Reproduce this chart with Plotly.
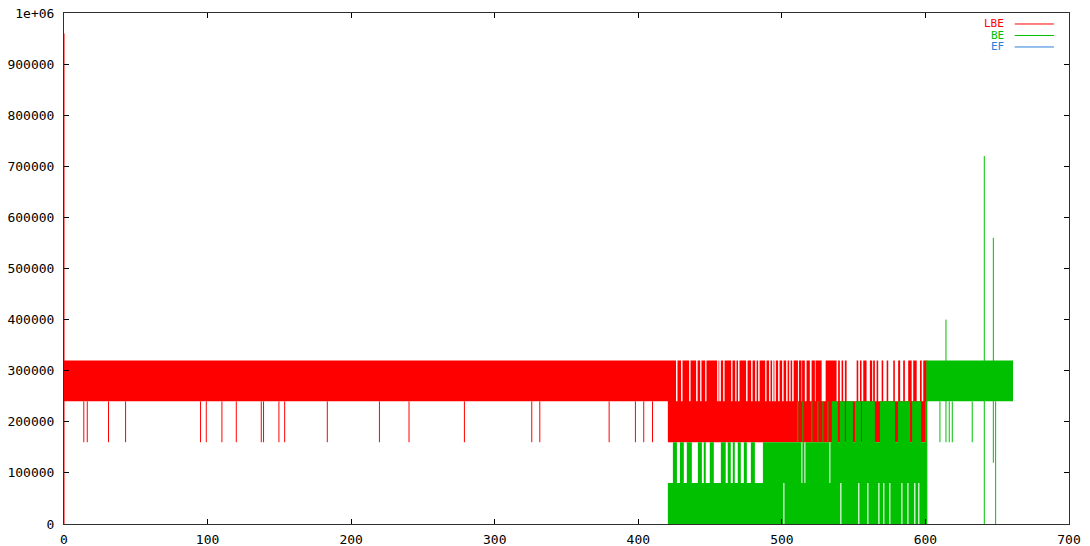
import plotly.graph_objects as go

# ---------------- data ----------------
x_ticks = [0, 100, 200, 300, 400, 500, 600, 700]
y_ticks = [0, 100000, 200000, 300000, 400000, 500000, 600000, 700000, 800000, 900000, 1000000]
y_tick_text = ["0", "100000", "200000", "300000", "400000", "500000", "600000",
               "700000", "800000", "900000", "1e+06"]

series_names = ["LBE", "BE", "EF"]
series_colors = ["#ff0000", "#00c000", "#2a7fdc"]

# LBE: dense oscillation envelopes  (x_start, x_end, y_low, y_high)
lbe_bands = [
    (0.0, 420.6, 240000, 320000),
    (420.6, 601.0, 160000, 240000),
]
# LBE: x-runs where the dense oscillation also reaches 240000-320000 (after x=420)
lbe_high_runs = [
    (420.6, 426.3), (427.3, 429.8), (430.8, 435.4), (436.4, 440.3), (441.3, 443.1),
    (444.0, 446.6), (447.5, 454.9), (455.9, 456.4), (457.5, 459.1), (460.1, 464.7),
    (465.6, 467.5), (468.4, 469.5), (470.5, 475.1), (476.1, 478.6), (479.6, 481.4),
    (482.4, 483.5), (484.5, 488.4), (489.3, 491.1), (492.1, 493.2), (494.2, 494.8),
    (495.8, 497.4), (498.4, 500.2), (501.2, 503.0), (504.0, 505.1), (506.1, 507.2),
    (508.2, 511.2), (511.9, 513.7), (514.1, 516.0), (517.2, 519.5), (520.7, 523.0),
    (523.5, 527.7), (530.5, 538.1), (539.2, 540.4), (541.6, 542.7), (543.9, 545.1),
    (552.1, 553.2), (554.4, 555.5), (556.7, 559.0), (561.3, 562.9), (563.6, 564.8),
    (566.0, 567.1), (569.5, 570.6), (573.0, 574.1), (577.6, 578.7), (581.0, 582.4),
    (584.5, 585.7), (588.0, 590.4), (591.5, 593.9), (596.2, 597.4), (598.5, 601.0),
]
# LBE: single excursions (x, y_from, y_to)
lbe_spikes = [
    (0.0, 0, 960000),
    (13.8, 160000, 240000), (16.2, 160000, 240000), (31.0, 160000, 240000),
    (42.9, 160000, 240000), (95.1, 160000, 240000), (99.1, 160000, 240000),
    (110.0, 160000, 240000), (120.0, 160000, 240000), (137.4, 160000, 240000),
    (139.0, 160000, 240000), (149.7, 160000, 240000), (153.7, 160000, 240000),
    (183.4, 160000, 240000), (219.7, 160000, 240000), (240.3, 160000, 240000),
    (278.9, 160000, 240000), (325.8, 160000, 240000), (331.4, 160000, 240000),
    (379.7, 160000, 240000), (398.0, 160000, 240000), (403.8, 160000, 240000),
    (409.9, 160000, 240000),
]

# BE: dense oscillation envelopes
be_bands = [
    (420.6, 501.0, 0, 80000), (501.8, 540.7, 0, 80000), (541.5, 553.2, 0, 80000),
    (554.0, 559.5, 0, 80000), (560.3, 567.2, 0, 80000), (568.0, 570.6, 0, 80000),
    (571.4, 574.8, 0, 80000), (575.6, 583.2, 0, 80000), (584.0, 587.4, 0, 80000),
    (588.2, 592.2, 0, 80000), (593.0, 595.0, 0, 80000), (595.8, 601.0, 0, 80000),
    (424.1, 426.9, 80000, 160000), (429.0, 431.7, 80000, 160000),
    (433.8, 437.3, 80000, 160000), (441.5, 444.3, 80000, 160000),
    (445.6, 447.0, 80000, 160000), (449.8, 452.6, 80000, 160000),
    (457.5, 460.9, 80000, 160000), (462.3, 464.4, 80000, 160000),
    (465.8, 467.2, 80000, 160000), (469.3, 471.4, 80000, 160000),
    (473.5, 475.6, 80000, 160000), (478.4, 481.2, 80000, 160000),
    (486.8, 513.6, 80000, 160000), (514.3, 515.7, 80000, 160000),
    (516.4, 533.1, 80000, 160000), (533.8, 601.0, 80000, 160000),
    (534.8, 539.0, 160000, 240000), (540.4, 543.9, 160000, 240000),
    (544.6, 549.5, 160000, 240000), (550.9, 555.1, 160000, 240000),
    (555.8, 564.8, 160000, 240000), (568.3, 578.8, 160000, 240000),
    (580.9, 589.3, 160000, 240000), (590.7, 597.0, 160000, 240000),
    (599.8, 601.0, 160000, 240000),
    (601.0, 661.0, 240000, 320000),
]
# BE: single excursions (x, y_from, y_to)
be_spikes = [
    (511.1, 160000, 240000), (514.6, 160000, 240000), (520.9, 160000, 240000),
    (525.1, 160000, 240000), (528.6, 160000, 240000), (532.1, 160000, 240000),
    (601.0, 0, 320000),
    (610.1, 160000, 240000), (614.3, 160000, 400000), (616.6, 160000, 240000),
    (618.7, 160000, 240000), (632.6, 160000, 240000), (641.0, 0, 720000),
    (647.3, 120000, 560000), (648.9, 0, 240000),
]

# EF: no visible values
ef_x = []
ef_y = []

# ---------------- figure ----------------
def band_xy(bands):
    xs, ys = [], []
    for x0, x1, y0, y1 in bands:
        xs += [x0, x1, x1, x0, x0, None]
        ys += [y0, y0, y1, y1, y0, None]
    return xs, ys

def spike_xy(spikes):
    xs, ys = [], []
    for x, y0, y1 in spikes:
        xs += [x, x, None]
        ys += [y0, y1, None]
    return xs, ys

fig = go.Figure()

lbe_all = lbe_bands + [(a, b, 240000, 320000) for a, b in lbe_high_runs]
bx, by = band_xy(lbe_all)
fig.add_trace(go.Scatter(x=bx, y=by, mode="lines", fill="toself",
                         fillcolor=series_colors[0], line=dict(width=0, color=series_colors[0]),
                         showlegend=False, hoverinfo="skip"))
sx, sy = spike_xy(lbe_spikes)
fig.add_trace(go.Scatter(x=sx, y=sy, mode="lines", line=dict(width=1, color=series_colors[0]),
                         showlegend=False, hoverinfo="skip"))

bx, by = band_xy(be_bands)
fig.add_trace(go.Scatter(x=bx, y=by, mode="lines", fill="toself",
                         fillcolor=series_colors[1], line=dict(width=0, color=series_colors[1]),
                         showlegend=False, hoverinfo="skip"))
sx, sy = spike_xy(be_spikes)
fig.add_trace(go.Scatter(x=sx, y=sy, mode="lines", line=dict(width=1, color=series_colors[1]),
                         showlegend=False, hoverinfo="skip"))

fig.add_trace(go.Scatter(x=ef_x, y=ef_y, mode="lines", line=dict(width=1, color=series_colors[2]),
                         showlegend=False))

# gnuplot-style key: coloured label, then a line sample
key_y = [0.9785, 0.956, 0.9335]
for name, col, ky in zip(series_names, series_colors, key_y):
    fig.add_annotation(xref="paper", yref="paper", x=0.936, y=ky, text=name,
                       showarrow=False, xanchor="right", yanchor="middle", borderpad=0,
                       font=dict(family="DejaVu Sans Mono", size=11, color=col))
    fig.add_shape(type="line", xref="paper", yref="paper", x0=0.946, x1=0.985,
                  y0=ky, y1=ky, line=dict(color=col, width=1))

mono = dict(family="DejaVu Sans Mono", size=13, color="#000000")
fig.update_layout(
    width=1090, height=546,
    margin=dict(l=64, r=21, t=13, b=22, autoexpand=False),
    paper_bgcolor="white", plot_bgcolor="white",
    showlegend=False,
    font=mono,
)
fig.update_xaxes(range=[0, 700], tickvals=x_ticks, ticktext=[str(v) for v in x_ticks],
                 showgrid=False, zeroline=False, showline=True, linecolor="#303030",
                 linewidth=1, mirror="ticks", ticks="inside", ticklen=5, tickcolor="#000000",
                 tickfont=mono, ticklabelstandoff=3, automargin=False)
fig.update_yaxes(range=[0, 1000000], tickvals=y_ticks, ticktext=y_tick_text,
                 showgrid=False, zeroline=False, showline=True, linecolor="#303030",
                 linewidth=1, mirror="ticks", ticks="inside", ticklen=5, tickcolor="#000000",
                 tickfont=mono, ticklabelstandoff=6, automargin=False)

fig.write_html("out.html", config={"displayModeBar": False},
               post_script="document.body.style.margin='0';document.body.style.overflow='hidden';")
